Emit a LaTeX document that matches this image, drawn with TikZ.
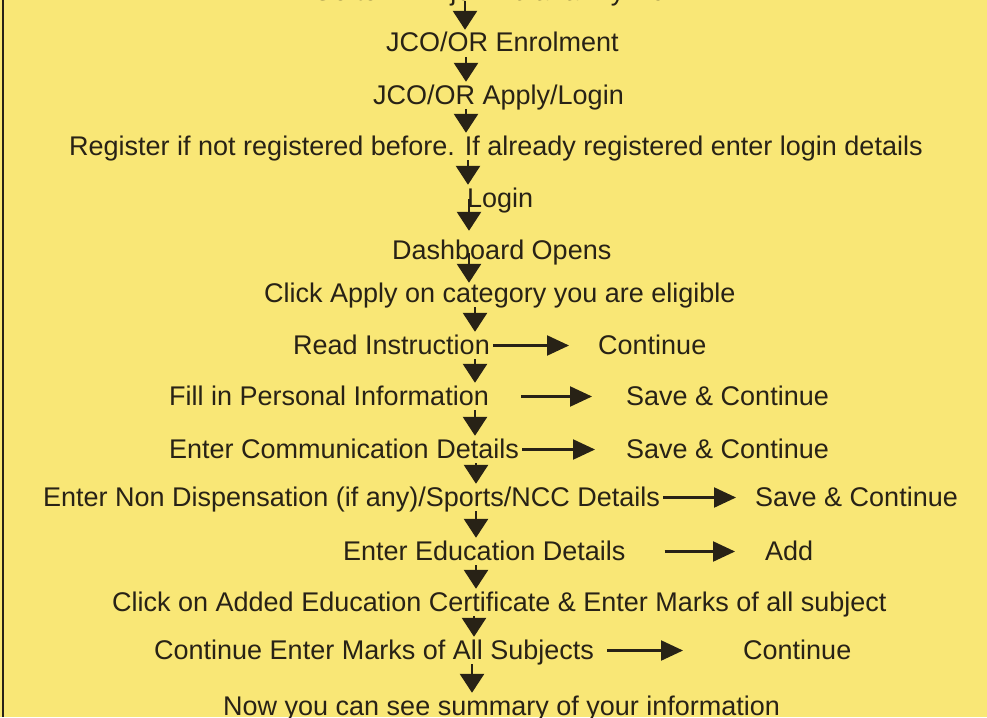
\documentclass[tikz,border=0pt]{standalone}
\usepackage{fontspec}
\setmainfont{Liberation Sans}
\usetikzlibrary{arrows.meta}
\definecolor{paper}{RGB}{249,231,118}
\definecolor{ink}{RGB}{40,34,22}
\tikzset{
	stepnode/.style={inner sep=0pt, anchor=base west, text height=22pt, text depth=5pt, text=ink, font=\fontsize{27}{32}\selectfont},
	downarrow/.style={ink, line width=2.8pt, -{Triangle[length=19pt,width=24pt]}},
	sidearrow/.style={ink, line width=2.2pt, -{Triangle[length=22pt,width=20pt]}}
}
\begin{document}
\begin{tikzpicture}[x=1pt,y=-1pt]
	\clip (0,0) rectangle (987,717);
	\fill[paper] (0,0) rectangle (987,717);
	\draw[ink, line width=2pt] (3,0) -- (3,717);
	% steps
	\node[stepnode] (go) at (312,1) {Go to www.joinindianarmy.nic.in};
	\node[stepnode] (enrol) at (386,52) {JCO/OR Enrolment};
	\node[stepnode] (apply) at (373,104) {JCO/OR Apply/Login};
	\node[stepnode] (reg) at (69,155) {Register if not registered before. If already registered enter login details};
	\node[stepnode] (login) at (467,207) {Login};
	\node[stepnode] (dash) at (392,259) {Dashboard Opens};
	\node[stepnode] (click) at (264,302) {Click Apply on category you are eligible};
	\node[stepnode] (read) at (293,354) {Read Instruction};
	\node[stepnode] (fill) at (169,405) {Fill in Personal Information};
	\node[stepnode] (comm) at (169,458) {Enter Communication Details};
	\node[stepnode] (nondisp) at (43,506) {Enter Non Dispensation (if any)/Sports/NCC Details};
	\node[stepnode] (edu) at (343,560) {Enter Education Details};
	\node[stepnode] (cert) at (112,611) {Click on Added Education Certificate \& Enter Marks of all subject};
	\node[stepnode] (marks) at (154,659) {Continue Enter Marks of All Subjects};
	\node[stepnode] (summ) at (223,715) {Now you can see summary of your information};
	% actions on the right
	\node[stepnode] (cont1) at (598,354) {Continue};
	\node[stepnode] (save1) at (626,405) {Save \& Continue};
	\node[stepnode] (save2) at (626,458) {Save \& Continue};
	\node[stepnode] (save3) at (755,506) {Save \& Continue};
	\node[stepnode] (add) at (765,560) {Add};
	\node[stepnode] (cont2) at (743,659) {Continue};
	% downward flow
	\draw[downarrow, shorten <=-5pt] (go.south -| 465,0) -- (enrol.north -| 465,0);
	\draw[downarrow] (enrol.south -| 466,0) -- (apply.north -| 466,0);
	\draw[downarrow] (apply.south -| 466,0) -- (reg.north -| 466,0);
	\draw[downarrow] (reg.south -| 468,0) -- (login.north -| 468,0);
	\draw[downarrow, shorten <=-13pt, shorten >=6pt] (login.south -| 469,0) -- (dash.north -| 469,0);
	\draw[downarrow, shorten <=-11pt, shorten >=-3pt] (dash.south -| 469,0) -- (click.north -| 469,0);
	\draw[downarrow] (click.south -| 475,0) -- (read.north -| 475,0);
	\draw[downarrow] (read.south -| 475,0) -- (fill.north -| 475,0);
	\draw[downarrow] (fill.south -| 475,0) -- (comm.north -| 475,0);
	\draw[downarrow] (comm.south -| 476,0) -- (nondisp.north -| 476,0);
	\draw[downarrow] (nondisp.south -| 476,0) -- (edu.north -| 476,0);
	\draw[downarrow] (edu.south -| 476,0) -- (cert.north -| 476,0);
	\draw[downarrow] (cert.south -| 474,0) -- (marks.north -| 474,0);
	\draw[downarrow] (marks.south -| 472,0) -- (summ.north -| 472,0);
	% sideways
	\draw[sidearrow, shorten <=3pt, shorten >=29pt] (read) -- (cont1);
	\draw[sidearrow, shorten <=32pt, shorten >=34pt] (fill) -- (save1);
	\draw[sidearrow, shorten <=3pt, shorten >=31pt] (comm) -- (save2);
	\draw[sidearrow, shorten <=3pt, shorten >=19pt] (nondisp) -- (save3);
	\draw[sidearrow, shorten <=39pt, shorten >=30pt] (edu) -- (add);
	\draw[sidearrow, shorten <=13pt, shorten >=60pt] (marks) -- (cont2);
\end{tikzpicture}
\end{document}
